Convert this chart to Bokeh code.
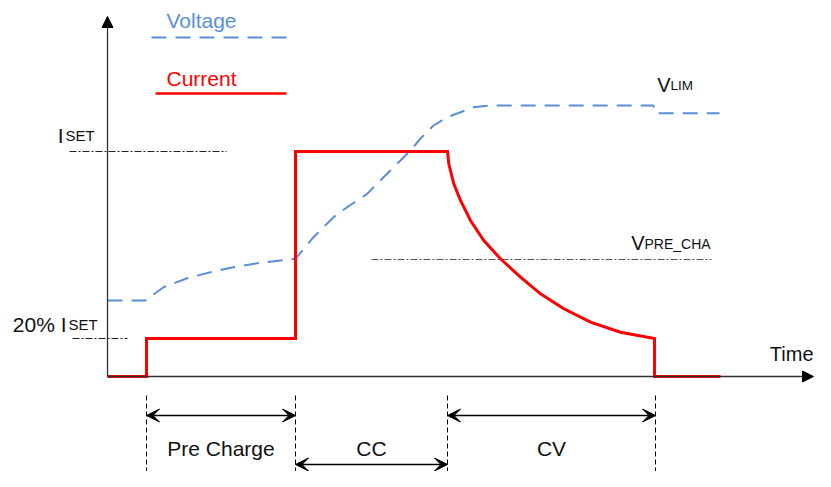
from bokeh.plotting import figure
from bokeh.models import Range1d, Arrow, NormalHead, VeeHead
from bokeh.core.properties import value
from bokeh.embed import file_html
from bokeh.resources import INLINE

# ---- data (diagram units, origin at axes corner) ----
time_current = [0, 39, 39, 188, 188, 340, 341.3, 346.3, 353, 363, 376.3, 393, 413, 433,
                456.3, 483, 513, 547, 547, 613]
current = [0, 0, 38, 38, 225, 225, 212.7, 192.7, 176, 156, 136, 117.7, 99.3, 82.7,
           67.7, 54.3, 44.3, 38, 0, 0]

time_voltage = [0, 38, 56, 79.7, 103, 126, 149.7, 173, 188, 206, 226, 239.7, 259.7, 276,
                293, 303, 313, 326, 339.7, 353, 366, 383, 546, 548, 612]
voltage = [76, 76, 89.3, 98.3, 104.3, 109.3, 113.3, 116, 117.7, 139.3, 159.3, 169.3, 182.7,
           199.3, 216, 226, 238, 251, 259.3, 264.3, 269.3, 271, 271, 263.3, 263.3]

i_set = 225
i_pre = 38
v_pre = 117
phase_bounds = [39, 188, 340, 548]
phase_labels = ["Pre Charge", "CC", "CV"]

BLUE = "#5A8ED6"
RED = "#FF0000"
FONT = value("Liberation Sans")
DY = 8  # baseline compensation for text

p = figure(width=815, height=471, x_range=Range1d(-107, 708), y_range=Range1d(-95, 376),
           output_backend="svg", toolbar_location=None, x_axis_type=None, y_axis_type=None,
           min_border=0, background_fill_color="white", border_fill_color="white")
p.outline_line_color = None
p.grid.visible = False

# axes with arrows
ax_col = "#303030"
p.add_layout(Arrow(end=NormalHead(size=11, fill_color="black", line_color="black"),
                   x_start=0, y_start=0, x_end=0, y_end=360, line_color=ax_col, line_width=1.3))
p.add_layout(Arrow(end=NormalHead(size=11, fill_color="black", line_color="black"),
                   x_start=0, y_start=0, x_end=706, y_end=0, line_color=ax_col, line_width=1.3))

# reference lines (dash-dot)
p.line([-38, 119], [i_set, i_set], line_color="#222222", line_width=1, line_dash="7 2 2 2")
p.line([-35, 20], [i_pre, i_pre], line_color="#222222", line_width=1, line_dash="7 2 2 2")
p.line([264, 604], [v_pre, v_pre], line_color="#555555", line_width=1, line_dash="7 2 2 2")

# series
p.line(time_voltage, voltage, line_color=BLUE, line_width=2, line_dash="15 9")
p.line(time_current, current, line_color=RED, line_width=3, line_join="miter")

# legend (drawn)
p.line([44, 179], [339, 339], line_color=BLUE, line_width=2, line_dash="15 9")
p.line([48, 179], [283, 283], line_color=RED, line_width=2.5)
p.text(x=[94], y=[348 + DY], text=["Voltage"], text_font=FONT, text_font_size="21px",
       text_color=BLUE, text_align="center", text_baseline="alphabetic")
p.text(x=[94], y=[290 + DY], text=["Current"], text_font=FONT, text_font_size="21px",
       text_color=RED, text_align="center", text_baseline="alphabetic")

# level labels
TXT = "#111111"
p.text(x=[-44, -41], y=[233 + DY, 44 + DY], text=["I", "20% I"], text_font=FONT,
       text_font_size="21px", text_color=TXT, text_align="right", text_baseline="alphabetic")
p.text(x=[-42, -39], y=[233 + DY, 44 + DY], text=["SET", "SET"], text_font=FONT,
       text_font_size="15px", text_color=TXT, text_align="left", text_baseline="alphabetic")
p.text(x=[563, 537], y=[284 + DY, 126 + DY], text=["V", "V"], text_font=FONT,
       text_font_size="20px", text_color=TXT, text_align="right", text_baseline="alphabetic")
p.text(x=[563], y=[283 + DY], text=["LIM"], text_font=FONT, text_font_size="13.5px",
       text_color=TXT, text_align="left", text_baseline="alphabetic")
p.text(x=[537], y=[125 + DY], text=["PRE_CHA"], text_font=FONT, text_font_size="14px",
       text_color=TXT, text_align="left", text_baseline="alphabetic")
p.text(x=[706], y=[15 + DY], text=["Time"], text_font=FONT, text_font_size="20px",
       text_color=TXT, text_align="right", text_baseline="alphabetic")

# phase markers
for xb in phase_bounds:
    p.line([xb, xb], [-19, -120], line_color="black", line_width=1, line_dash="5 3")

arrow_rows = [-39, -88, -39]
for i, lab in enumerate(phase_labels):
    x0, x1 = phase_bounds[i], phase_bounds[i + 1]
    p.add_layout(Arrow(start=VeeHead(size=13, fill_color="black", line_color="black"),
                       end=VeeHead(size=13, fill_color="black", line_color="black"),
                       x_start=x0, y_start=arrow_rows[i], x_end=x1, y_end=arrow_rows[i],
                       line_color="black", line_width=1.3))
    p.text(x=[(x0 + x1) / 2], y=[-80 + DY], text=[lab], text_font=FONT, text_font_size="21px",
           text_color=TXT, text_align="center", text_baseline="alphabetic")

open("out.html", "w").write(file_html(p, INLINE))
